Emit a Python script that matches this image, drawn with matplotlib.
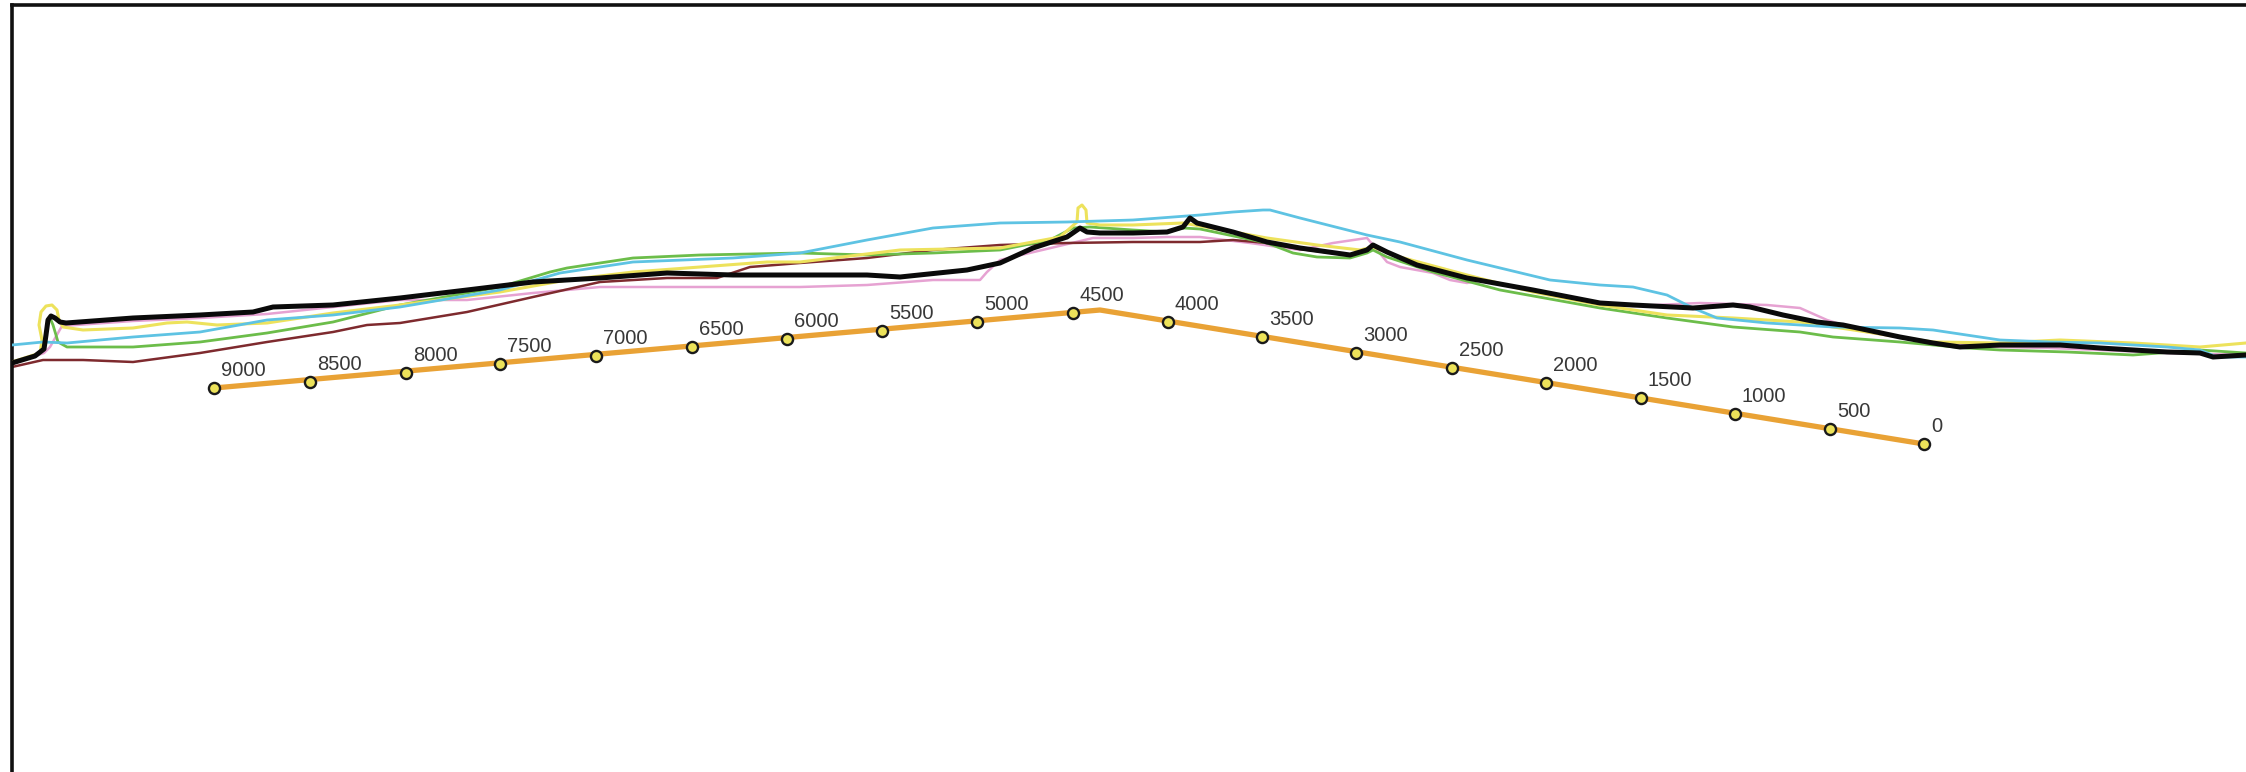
import matplotlib
matplotlib.use("Agg")
import matplotlib.pyplot as plt

# ---- data (image-pixel coordinates of traced shorelines) ----
black_x = [12,35,44,46,48,51,55,60,66,133,200,253,273,333,400,467,533,600,667,733,800,867,900,967,1000,1033,1067,1080,1087,1100,1133,1167,1183,1190,1197,1233,1267,1300,1350,1367,1373,1387,1417,1467,1533,1600,1633,1693,1733,1750,1783,1817,1843,1867,1900,1933,1960,2000,2060,2100,2167,2200,2213,2246]
black_y = [363,356,349,335,320,316,318,322,323,318,315,312,307,305,298,290,282,278,273,275,275,275,277,270,263,248,237,228,232,233,233,232,227,218,223,232,242,248,255,250,245,252,265,278,290,303,305,308,305,307,315,322,325,330,337,343,347,345,345,348,352,353,357,355]

yellow_x = [12,40,42,39,41,46,52,57,59,63,83,133,167,187,217,267,333,400,500,567,633,700,767,800,900,1000,1060,1077,1078,1082,1086,1087,1100,1133,1183,1200,1267,1317,1360,1373,1400,1467,1533,1600,1667,1733,1800,1867,1933,2000,2060,2133,2200,2246]
yellow_y = [362,353,340,325,312,306,305,310,320,327,330,328,323,322,325,323,313,305,292,280,272,267,262,262,250,248,237,222,208,205,210,223,225,225,223,226,238,245,250,247,257,275,292,305,315,318,322,332,342,343,340,343,347,343]

cyan_x = [12,43,67,133,200,267,333,400,500,560,633,733,800,867,933,1000,1067,1133,1200,1233,1263,1270,1300,1367,1400,1467,1550,1600,1633,1667,1693,1717,1767,1833,1900,1933,2000,2050,2100,2167,2200,2217,2246]
cyan_y = [345,342,343,337,332,320,315,307,290,273,262,258,253,240,228,223,222,220,215,212,210,210,218,235,242,260,280,285,287,295,308,318,323,327,328,330,340,342,343,347,350,357,357]

green_x = [50,53,56,58,67,133,200,267,333,400,500,550,567,633,700,800,867,933,1000,1050,1073,1090,1133,1167,1183,1200,1267,1293,1317,1350,1367,1373,1387,1433,1500,1600,1667,1733,1800,1833,1900,1967,2000,2067,2133,2200,2246]
green_y = [318,325,335,342,347,347,342,333,322,305,287,272,268,258,255,253,255,253,250,240,228,227,230,232,228,229,243,253,257,258,253,250,257,272,290,308,318,327,332,337,342,348,350,352,355,350,353]

maroon_x = [12,43,83,133,200,267,333,367,400,467,533,600,667,717,750,800,867,933,1000,1067,1133,1200,1233,1267,1300,1340]
maroon_y = [367,360,360,362,353,342,332,325,323,312,297,282,278,278,267,263,258,250,245,243,242,242,240,243,249,254]

pink_x = [12,44,50,62,133,200,267,333,400,467,533,600,667,733,800,867,933,980,987,1000,1093,1133,1167,1200,1250,1300,1333,1367,1373,1387,1400,1433,1450,1467,1483,1533,1600,1633,1700,1767,1800,1827,1843,1867,1933,2000,2050,2100,2167,2246]
pink_y = [364,353,347,326,321,318,314,307,300,300,293,287,287,287,287,285,280,280,272,260,238,238,237,237,243,250,243,238,245,262,267,273,280,283,280,291,304,306,303,305,308,320,325,332,343,347,348,350,353,355]

# transect (orange) path and distance markers
path_x = [214, 1100, 1924]
path_y = [388, 310, 444]
mark_labels = ["9000","8500","8000","7500","7000","6500","6000","5500","5000","4500",
               "4000","3500","3000","2500","2000","1500","1000","500","0"]
mark_x = [214,310,406,500,596,692,787,882,977,1073,1168,1262,1356,1452,1546,1641,1735,1830,1924]
mark_y = [388,382,373,364,356,347,339,331,322,313,322,337,353,368,383,398,414,429,444]

# ---- figure ----
W, H = 2246, 772
fig = plt.figure(figsize=(W/100, H/100), dpi=100)
ax = fig.add_axes([12/W, 0, 1 - 12/W, 1 - 5/H])
ax.set_xlim(12, W)
ax.set_ylim(H, 5)
ax.set_xticks([]); ax.set_yticks([])
for s in ["right", "bottom"]:
    ax.spines[s].set_visible(False)
for s in ["left", "top"]:
    ax.spines[s].set_linewidth(2.6)
    ax.spines[s].set_color("#111111")

kw = dict(solid_capstyle="round", solid_joinstyle="round")
ax.plot(pink_x, pink_y, color="#e6a2d2", lw=1.8, zorder=2, **kw)
ax.plot(maroon_x, maroon_y, color="#7e2a2e", lw=1.8, zorder=2, **kw)
ax.plot(green_x, green_y, color="#6cbd4a", lw=2.0, zorder=3, **kw)
ax.plot(yellow_x, yellow_y, color="#ede25c", lw=2.2, zorder=3, **kw)
ax.plot(cyan_x, cyan_y, color="#5ec3e3", lw=2.0, zorder=4, **kw)
ax.plot(black_x, black_y, color="#0a0a0a", lw=3.6, zorder=5, **kw)

ax.plot(path_x, path_y, color="#e9a235", lw=3.8, zorder=6, **kw)
ax.plot(mark_x, mark_y, ls="none", marker="o", ms=8, mfc="#ece25a",
        mec="#1a1a1a", mew=1.7, zorder=7)
for lab, x, y in zip(mark_labels, mark_x, mark_y):
    ax.annotate(lab, (x, y), xytext=(5, 6), textcoords="offset points",
                ha="left", va="bottom", fontsize=14.5, color="#383838",
                family="Liberation Sans", zorder=8)

fig.savefig("out.png", dpi=100)
